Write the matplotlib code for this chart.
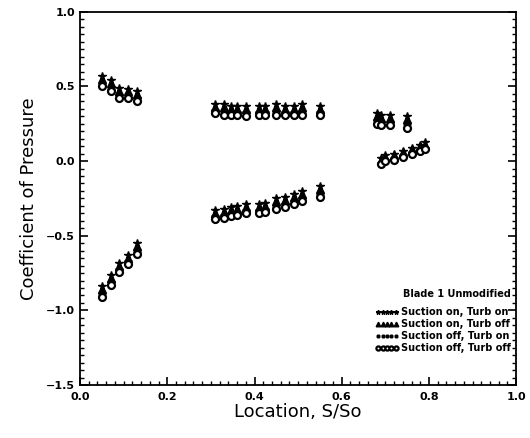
import numpy as np
import matplotlib
matplotlib.use("Agg")
import matplotlib.pyplot as plt
from matplotlib.ticker import MultipleLocator, FuncFormatter

# surface locations S/So
x_le = [0.05, 0.07, 0.09, 0.11, 0.13]
x_mid = [0.31, 0.33, 0.345, 0.36, 0.38, 0.41, 0.425, 0.45, 0.47, 0.49, 0.51, 0.55]
x_te_up = [0.68, 0.69, 0.71, 0.75]
x_te_lo = [0.69, 0.70, 0.72, 0.74, 0.76, 0.78, 0.79]

# series: on/on, on/off, off/on, off/off
le_up = [[0.57, 0.54, 0.49, 0.48, 0.47],
         [0.55, 0.52, 0.47, 0.47, 0.45],
         [0.51, 0.48, 0.44, 0.43, 0.42],
         [0.50, 0.47, 0.42, 0.42, 0.40]]
le_lo = [[-0.84, -0.76, -0.68, -0.63, -0.55],
         [-0.86, -0.78, -0.70, -0.65, -0.57],
         [-0.89, -0.81, -0.72, -0.67, -0.60],
         [-0.91, -0.83, -0.74, -0.69, -0.62]]
mid_up = [[0.38, 0.38, 0.37, 0.37, 0.37, 0.37, 0.37, 0.38, 0.37, 0.37, 0.38, 0.37],
          [0.36, 0.36, 0.35, 0.35, 0.35, 0.35, 0.35, 0.36, 0.35, 0.35, 0.36, 0.35],
          [0.34, 0.33, 0.33, 0.33, 0.33, 0.33, 0.33, 0.33, 0.33, 0.33, 0.33, 0.33],
          [0.32, 0.31, 0.31, 0.31, 0.30, 0.31, 0.31, 0.31, 0.31, 0.31, 0.31, 0.31]]
mid_lo = [[-0.33, -0.32, -0.31, -0.30, -0.29, -0.29, -0.28, -0.25, -0.24, -0.22, -0.20, -0.17],
          [-0.35, -0.34, -0.33, -0.32, -0.31, -0.31, -0.30, -0.27, -0.26, -0.24, -0.22, -0.19],
          [-0.37, -0.36, -0.35, -0.34, -0.33, -0.33, -0.32, -0.30, -0.29, -0.27, -0.25, -0.22],
          [-0.39, -0.38, -0.37, -0.36, -0.35, -0.35, -0.34, -0.32, -0.31, -0.29, -0.27, -0.24]]
te_up = [[0.32, 0.31, 0.31, 0.30],
         [0.30, 0.29, 0.29, 0.28],
         [0.27, 0.26, 0.26, 0.25],
         [0.25, 0.24, 0.24, 0.22]]
te_lo = [[0.02, 0.04, 0.05, 0.07, 0.09, 0.11, 0.13],
         [0.01, 0.03, 0.04, 0.06, 0.08, 0.10, 0.11],
         [-0.01, 0.01, 0.02, 0.04, 0.06, 0.08, 0.09],
         [-0.02, 0.00, 0.01, 0.03, 0.05, 0.07, 0.08]]

labels = ["Suction on, Turb on", "Suction on, Turb off",
          "Suction off, Turb on", "Suction off, Turb off"]
markers = ["*", "^", "+", "o"]

plt.rcParams["font.weight"] = "bold"

fig = plt.figure(figsize=(5.3, 4.38), dpi=100)
ax = fig.add_axes([0.151, 0.121, 0.823, 0.852])

for i in range(4):
    xs = x_le + x_le + x_mid + x_mid + x_te_up + x_te_lo
    ys = le_up[i] + le_lo[i] + mid_up[i] + mid_lo[i] + te_up[i] + te_lo[i]
    if markers[i] == "o":
        ax.plot(xs, ys, ls="none", marker="o", ms=5, mfc="white", mec="black",
                mew=1.6, label=labels[i])
    elif markers[i] == "+":
        ax.plot(xs, ys, ls="none", marker="+", ms=5.5, color="black", mew=1.8,
                label=labels[i])
    else:
        ax.plot(xs, ys, ls="none", marker=markers[i], ms=5.5, color="black",
                label=labels[i])

ax.set_xlim(0, 1)
ax.set_ylim(-1.5, 1.0)
ax.xaxis.set_major_locator(MultipleLocator(0.2))
ax.xaxis.set_minor_locator(MultipleLocator(0.02))
ax.yaxis.set_major_locator(MultipleLocator(0.5))
ax.yaxis.set_minor_locator(MultipleLocator(0.05))
fmt = FuncFormatter(lambda v, p: ("%.1f" % v).replace("-", "\u2212"))
ax.xaxis.set_major_formatter(fmt)
ax.yaxis.set_major_formatter(fmt)
ax.tick_params(which="both", direction="in", top=False, right=True)
ax.tick_params(which="major", length=6, width=1.2, labelsize=8)
ax.tick_params(axis="x", which="major", pad=5)
ax.tick_params(which="minor", length=3, width=1)
for s in ax.spines.values():
    s.set_linewidth(1.3)

ax.set_xlabel("Location, S/So", fontsize=13, fontweight="normal", labelpad=1)
ax.set_ylabel("Coefficient of Pressure", fontsize=13, fontweight="normal",
              labelpad=6)

leg = ax.legend(loc="upper right", bbox_to_anchor=(1.0, 0.27),
                numpoints=5, frameon=False, fontsize=7,
                handlelength=2.4, handletextpad=0.3, labelspacing=0.2,
                borderaxespad=0.1, markerscale=0.6, alignment="right",
                title="Blade 1 Unmodified",
                title_fontproperties={"size": 7, "weight": "bold"})
leg._legend_box.sep = 6

fig.savefig("out.png", dpi=100)
